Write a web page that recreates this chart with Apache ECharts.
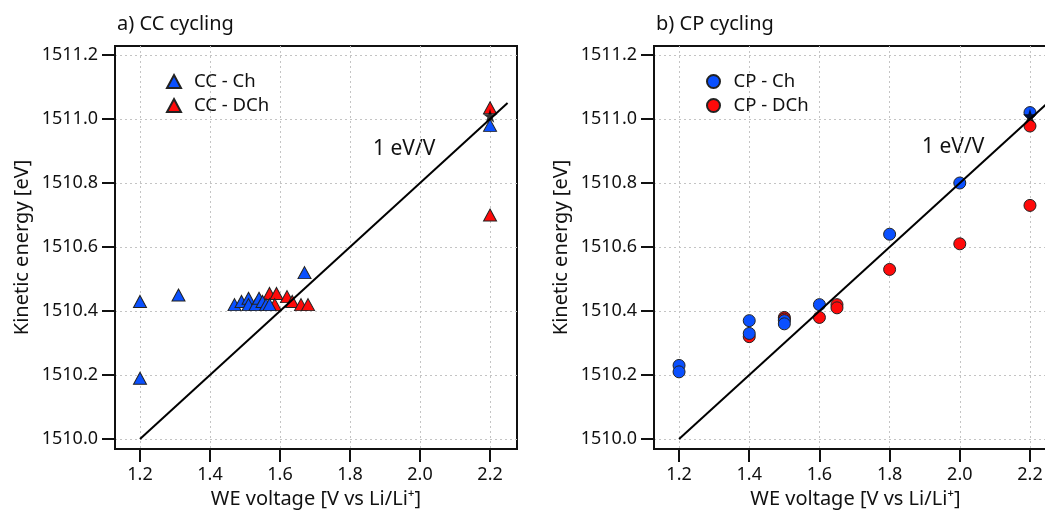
<!DOCTYPE html>
<html>
<head>
<meta charset="utf-8">
<script src="https://cdn.jsdelivr.net/npm/echarts@6/dist/echarts.min.js"></script>
<style>html,body{margin:0;padding:0;background:#fff}#c{width:1045px;height:510px}</style>
</head>
<body>
<div id="c"></div>
<script>
// ---- data ----
const xTicks = [1.2, 1.4, 1.6, 1.8, 2.0, 2.2];
const yTicks = [1510.0, 1510.2, 1510.4, 1510.6, 1510.8, 1511.0, 1511.2];
const xRange = [1.1286, 2.277];
const yRange = [1509.969, 1511.228];

const ccCh = [[1.2,1510.43],[1.2,1510.19],[1.31,1510.45],[1.47,1510.42],[1.49,1510.43],[1.51,1510.44],[1.51,1510.42],[1.53,1510.42],[1.54,1510.44],[1.55,1510.43],[1.56,1510.42],[1.57,1510.42],[1.67,1510.52],[2.2,1510.98]];
const ccDCh = [[1.57,1510.455],[1.59,1510.455],[1.585,1510.42],[1.62,1510.445],[1.635,1510.43],[1.66,1510.42],[1.68,1510.42],[2.2,1511.035],[2.2,1510.70]];
const cpCh = [[1.2,1510.23],[1.2,1510.21],[1.4,1510.37],[1.4,1510.33],[1.5,1510.37],[1.5,1510.36],[1.6,1510.42],[1.8,1510.64],[2.0,1510.80],[2.2,1511.02]];
const cpDCh = [[1.4,1510.32],[1.5,1510.38],[1.5,1510.375],[1.6,1510.38],[1.65,1510.42],[1.65,1510.41],[1.8,1510.53],[2.0,1510.61],[2.2,1510.978],[2.2,1510.73]];
const slopeLine = [[1.2,1510.0],[2.25,1511.05]];
const refStar = [[2.2,1511.01]];

const FONT = 'Noto Sans';
const INK = '#111';
const BLUE = '#0a50ff';
const RED = '#ff0a0a';
const STAR = 'path://M50,0 L61,35 L98,35 L68,57 L79,91 L50,70 L21,91 L32,57 L2,35 L39,35 Z';

function xAxis(i) {
  return {
    type: 'value', gridIndex: i, min: xRange[0], max: xRange[1],
    name: 'WE voltage [V vs Li/Li\u207A]', nameLocation: 'middle', nameGap: 40,
    nameTextStyle: {fontFamily: FONT, fontSize: 20, color: INK},
    axisLine: {show: true, onZero: false, lineStyle: {color: INK, width: 2}},
    axisTick: {show: true, inside: false, length: 13, customValues: xTicks, lineStyle: {color: INK, width: 2}},
    axisLabel: {customValues: xTicks, formatter: v => Number(v).toFixed(1), fontFamily: FONT, fontSize: 18, color: INK, margin: 17},
    splitLine: {show: true, lineStyle: {color: '#c4c4c4', type: [2, 3], width: 1}}
  };
}
function yAxis(i) {
  return {
    type: 'value', gridIndex: i, min: yRange[0], max: yRange[1],
    name: 'Kinetic energy [eV]', nameLocation: 'middle', nameGap: 83,
    nameTextStyle: {fontFamily: FONT, fontSize: 20, color: INK},
    axisLine: {show: true, onZero: false, lineStyle: {color: INK, width: 2}},
    axisTick: {show: true, inside: false, length: 13, customValues: yTicks, lineStyle: {color: INK, width: 2}},
    axisLabel: {customValues: yTicks, formatter: v => Number(v).toFixed(1), fontFamily: FONT, fontSize: 18, color: INK, margin: 17},
    splitLine: {show: true, lineStyle: {color: '#c4c4c4', type: [2, 3], width: 1}}
  };
}
function legend(names, left) {
  return {
    data: names, left: left, top: 67, orient: 'vertical', itemWidth: 14, itemHeight: 13, itemGap: 5,
    textStyle: {fontFamily: FONT, fontSize: 18.5, color: INK, padding: [0, 0, 0, 8]}
  };
}
function pts(name, data, xi, sym, size, color) {
  return {
    name: name, type: 'scatter', xAxisIndex: xi, yAxisIndex: xi, data: data,
    symbol: sym, symbolSize: size,
    itemStyle: {color: color, borderColor: '#222', borderWidth: 1, opacity: 1},
    emphasis: {disabled: true}
  };
}
function line(data, i) {
  return {
    type: 'line', name: 'slope' + i, xAxisIndex: i, yAxisIndex: i, data: data, symbol: 'none',
    lineStyle: {color: '#000', width: 2}, clip: true, silent: true
  };
}
function star(data, i) {
  return {
    type: 'scatter', name: 'ref' + i, xAxisIndex: i, yAxisIndex: i, data: data,
    symbol: STAR, symbolSize: 14, itemStyle: {color: '#000'}, silent: true
  };
}

const chart = echarts.init(document.getElementById('c'), null, {renderer: 'canvas'});
chart.setOption({
  animation: false,
  backgroundColor: '#fff',
  textStyle: {fontFamily: FONT},
  title: [
    {text: 'a) CC cycling', left: 112, top: 9, textStyle: {fontFamily: FONT, fontSize: 20, fontWeight: 'normal', color: INK}},
    {text: 'b) CP cycling', left: 651, top: 9, textStyle: {fontFamily: FONT, fontSize: 20, fontWeight: 'normal', color: INK}}
  ],
  grid: [
    {left: 115, top: 46, width: 402, height: 403, show: true, borderColor: INK, borderWidth: 2, backgroundColor: 'transparent', containLabel: false, outerBoundsMode: 'none'},
    {left: 654, top: 46, width: 403, height: 403, show: true, borderColor: INK, borderWidth: 2, backgroundColor: 'transparent', containLabel: false, outerBoundsMode: 'none'}
  ],
  xAxis: [xAxis(0), xAxis(1)],
  yAxis: [yAxis(0), yAxis(1)],
  legend: [legend(['CC - Ch', 'CC - DCh'], 161), legend(['CP - Ch', 'CP - DCh'], 701)],
  graphic: [
    {type: 'text', left: 373, top: 139, style: {text: '1 eV/V', fontFamily: FONT, fontSize: 21, fill: INK}},
    {type: 'text', left: 922, top: 137, style: {text: '1 eV/V', fontFamily: FONT, fontSize: 21, fill: INK}}
  ],
  series: [
    line(slopeLine, 0),
    pts('CC - DCh', ccDCh, 0, 'triangle', [13, 12], RED),
    pts('CC - Ch', ccCh, 0, 'triangle', [13, 12], BLUE),
    star(refStar, 0),
    line(slopeLine, 1),
    pts('CP - DCh', cpDCh, 1, 'circle', 12, RED),
    pts('CP - Ch', cpCh, 1, 'circle', 12, BLUE),
    star(refStar, 1)
  ]
});
</script>
</body>
</html>
